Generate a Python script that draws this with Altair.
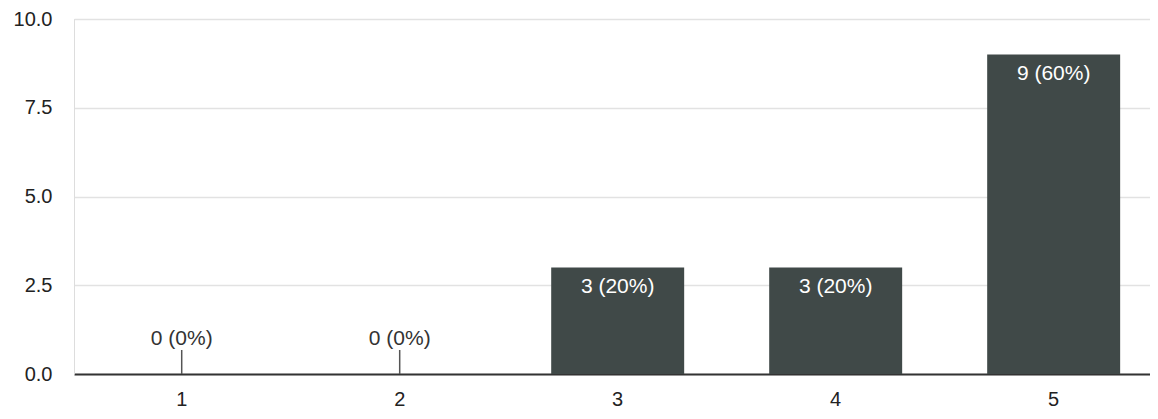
import altair as alt
import pandas as pd

categories = ["1", "2", "3", "4", "5"]
counts = [0, 0, 3, 3, 9]
percents = [0, 0, 20, 20, 60]
y_ticks = [0, 2.5, 5, 7.5, 10]

df = pd.DataFrame({
    "cat": categories,
    "count": counts,
    "label": [f"{c} ({p}%)" for c, p in zip(counts, percents)],
})

FONT = "Liberation Sans"
BAR = "#404948"

x = alt.X("cat:N", sort=categories, title=None,
          scale=alt.Scale(paddingInner=0.39, paddingOuter=0.163, align=0.58),
          axis=alt.Axis(labelAngle=0, labelFontSize=20, labelFont=FONT, labelColor="#222222",
                        labelPadding=15, ticks=False, domainColor="#333333", domainWidth=2,
                        grid=False))
y = alt.Y("count:Q", title=None,
          scale=alt.Scale(domain=[0, 10], nice=False),
          axis=alt.Axis(values=y_ticks, format=".1f", labelFontSize=20, labelFont=FONT,
                        labelColor="#222222", labelPadding=22, ticks=False,
                        domainColor="#dddddd", gridColor="#e2e2e2", gridWidth=1.5))

base = alt.Chart(df)

bars = base.transform_filter("datum.count > 0").mark_bar(color=BAR).encode(x=x, y=y)

zero_rule = base.transform_filter("datum.count == 0").mark_rule(
    color="#555555", strokeWidth=1.5).encode(x=x, y=y, y2=alt.value(331))

zero_text = base.transform_filter("datum.count == 0").mark_text(
    font=FONT, fontSize=21, color="#333333", dy=-35, baseline="middle").encode(
    x=x, y=y, text="label:N")

in_text = base.transform_filter("datum.count > 0").mark_text(
    font=FONT, fontSize=21, color="#ffffff", dy=19, baseline="middle").encode(
    x=x, y=y, text="label:N")

chart = alt.layer(bars, zero_rule, zero_text, in_text).properties(
    width=1076, height=355,
    autosize=alt.AutoSizeParams(type="none"),
    padding={"left": 66, "top": 11, "right": 0, "bottom": 37},
).configure_view(stroke=None).configure(background="#ffffff")

chart.save("out.html", embed_options={"renderer": "svg", "actions": False})
